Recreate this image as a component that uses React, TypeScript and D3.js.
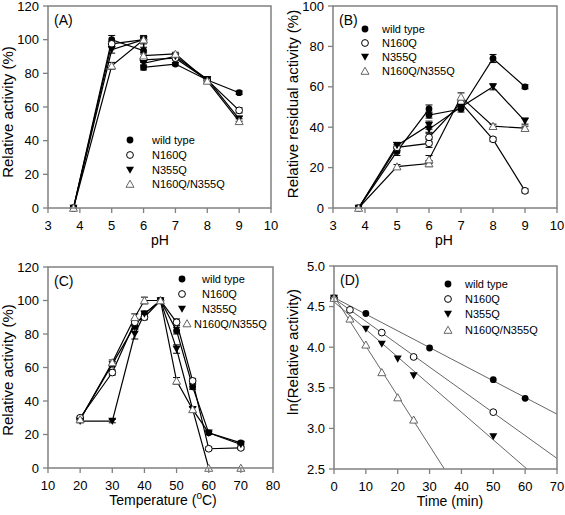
import React from 'react';
import * as d3 from 'd3';

const FONT = '"Liberation Sans", Arial, Helvetica, sans-serif';
const FRAME = '#808080';

const seriesNames = ['wild type', 'N160Q', 'N355Q', 'N160Q/N355Q'];
const markerTypes = ['fc', 'oc', 'ft', 'ot'];

// Panel A: pH profile (two buffers at pH 6)
const phA = [3.8, 5, 6, 6, 7, 8, 9];
const actA_wt = [0, 100, 93.5, 83.5, 85.5, 76, 68.5];
const actA_n160 = [0, 97.5, 100, 88, 89, 76, 58];
const actA_n355 = [0, 94, 100, 86, 90, 76.5, 53];
const actA_dbl = [0, 84.5, 100, 90.5, 91.5, 75.5, 51.5];
const errA_wt = [0, 2.5, 2, 1.5, 1, 1, 1];
const errA_n160 = [0, 1.5, 1.5, 1.5, 1, 1, 1.5];
const errA_n355 = [0, 2, 1.5, 1.5, 1, 1, 1.5];
const errA_dbl = [0, 2, 2.5, 2, 1, 1, 1.5];

// Panel B: pH stability
const phB = [3.8, 5, 6, 6, 7, 8, 9];
const actB_wt = [0, 28, 49, 46, 49, 74, 60];
const actB_n160 = [0, 30, 32, 35, 52, 34, 8.5];
const actB_n355 = [0, 31, 41, 39, 50, 60, 43];
const actB_dbl = [0, 20.5, 22, 24, 55, 40.5, 39.5];
const errB_wt = [0, 2, 2, 1.5, 1.5, 2, 1];
const errB_n160 = [0, 1.5, 2, 2, 1.5, 1, 1];
const errB_n355 = [0, 1.5, 2, 1.5, 1, 1.5, 1.5];
const errB_dbl = [0, 1, 1.5, 2, 2, 1, 1];

// Panel C: temperature profile
const tempC = [20, 30, 37, 40, 45, 50, 55, 60, 70];
const actC_wt = [29, 62, 85, 92, 100, 82, 48.5, 21, 15];
const actC_n160 = [30, 57, 87, 90, 100, 87, 52, 11.5, 12];
const actC_n355 = [28, 28, 80, 92, 100, 71, 35, 21, 14];
const actC_dbl = [29, 63, 90, 100, 100, 52, 35, 0, 0];
const errC_wt = [1, 1.5, 2, 1.5, 1, 2, 1.5, 1, 1];
const errC_n160 = [1, 1.5, 2, 1.5, 1, 2, 1.5, 1, 1];
const errC_n355 = [1, 1, 3, 1.5, 1, 2.5, 1.5, 1, 1];
const errC_dbl = [1, 1.5, 2, 2, 1, 2, 1.5, 0, 0];

// Panel D: thermal inactivation, ln(relative activity)
const timeD_wt = [0, 10, 30, 50, 60];
const lnD_wt = [4.605, 4.415, 3.99, 3.6, 3.37];
const timeD_n160 = [0, 5, 15, 25, 50];
const lnD_n160 = [4.605, 4.46, 4.18, 3.88, 3.2];
const timeD_n355 = [0, 10, 15, 20, 25, 50];
const lnD_n355 = [4.605, 4.225, 4.04, 3.856, 3.65, 2.9];
const timeD_dbl = [0, 5, 10, 15, 20, 25];
const lnD_dbl = [4.605, 4.35, 4.03, 3.69, 3.38, 3.106];

const ticksPH = [3, 4, 5, 6, 7, 8, 9, 10];
const ticksA_y = [0, 20, 40, 60, 80, 100, 120];
const ticksB_y = [0, 20, 40, 60, 80, 100];
const ticksC_x = [10, 20, 30, 40, 50, 60, 70, 80];
const ticksD_x = [0, 10, 20, 30, 40, 50, 60, 70];
const ticksD_y = [2.5, 3.0, 3.5, 4.0, 4.5, 5.0];

type Series = { x: number[]; y: number[]; err?: number[]; marker: string };

function Marker({ type, x, y }: { type: string; x: number; y: number }) {
  const r = 3.4;
  if (type === 'fc') return <circle cx={x} cy={y} r={r} fill="#000" />;
  if (type === 'oc') return <circle cx={x} cy={y} r={r} fill="#fff" stroke="#000" strokeWidth={1} />;
  if (type === 'ft')
    return <path d={`M${x - 4},${y - 3.3}L${x + 4},${y - 3.3}L${x},${y + 3.8}Z`} fill="#000" />;
  return (
    <path
      d={`M${x - 4},${y + 3.3}L${x + 4},${y + 3.3}L${x},${y - 3.8}Z`}
      fill="#fff"
      stroke="#666"
      strokeWidth={1}
    />
  );
}

function fit(xs: number[], ys: number[]) {
  const mx = d3.mean(xs) as number;
  const my = d3.mean(ys) as number;
  let sxy = 0,
    sxx = 0;
  xs.forEach((x, i) => {
    sxy += (x - mx) * (ys[i] - my);
    sxx += (x - mx) * (x - mx);
  });
  const b = sxy / sxx;
  return { a: my - b * mx, b };
}

type PanelProps = {
  id: string;
  box: { l: number; r: number; t: number; b: number };
  xDomain: [number, number];
  yDomain: [number, number];
  xTicks: number[];
  yTicks: number[];
  yFmt?: (v: number) => string;
  series: Series[];
  mode: 'connect' | 'fit';
  label: string;
  xTitle: React.ReactNode;
  xTitleX: number;
  yTitle: string;
  yTitleX: number;
  yTitleY: number;
  legend: { mx: number; tx: number; y: number }[];
};

function Panel(p: PanelProps) {
  const { box } = p;
  const x = d3.scaleLinear().domain(p.xDomain).range([box.l, box.r]);
  const y = d3.scaleLinear().domain(p.yDomain).range([box.b, box.t]);
  const fmt = p.yFmt || ((v: number) => String(v));
  const clipId = 'clip' + p.id;
  return (
    <g>
      <defs>
        <clipPath id={clipId}>
          <rect x={box.l} y={box.t} width={box.r - box.l} height={box.b - box.t} />
        </clipPath>
      </defs>
      {/* data lines */}
      <g clipPath={`url(#${clipId})`}>
        {p.series.map((s, i) => {
          if (p.mode === 'connect') {
            const line = d3
              .line<number>()
              .x((_, j) => x(s.x[j]))
              .y((v) => y(v));
            return <path key={i} d={line(s.y) || ''} fill="none" stroke="#000" strokeWidth={1.2} />;
          }
          const f = fit(s.x, s.y);
          const x0 = p.xDomain[0];
          const x1 = p.xDomain[1];
          return (
            <line
              key={i}
              x1={x(x0)}
              y1={y(f.a + f.b * x0)}
              x2={x(x1)}
              y2={y(f.a + f.b * x1)}
              stroke="#555"
              strokeWidth={0.9}
            />
          );
        })}
      </g>
      {/* error bars */}
      {p.series.map((s, i) =>
        (s.err || []).map((e, j) =>
          e > 0 ? (
            <g key={`e${i}-${j}`} stroke="#000" strokeWidth={1}>
              <line x1={x(s.x[j])} x2={x(s.x[j])} y1={y(s.y[j] - e)} y2={y(s.y[j] + e)} />
              <line x1={x(s.x[j]) - 3.5} x2={x(s.x[j]) + 3.5} y1={y(s.y[j] + e)} y2={y(s.y[j] + e)} />
              <line x1={x(s.x[j]) - 3.5} x2={x(s.x[j]) + 3.5} y1={y(s.y[j] - e)} y2={y(s.y[j] - e)} />
            </g>
          ) : null
        )
      )}
      {/* markers */}
      {p.series.map((s, i) =>
        s.y.map((v, j) => <Marker key={`m${i}-${j}`} type={s.marker} x={x(s.x[j])} y={y(v)} />)
      )}
      {/* frame */}
      <rect
        x={box.l}
        y={box.t}
        width={box.r - box.l}
        height={box.b - box.t}
        fill="none"
        stroke={FRAME}
        strokeWidth={1.5}
      />
      {/* x ticks */}
      {p.xTicks.map((t) => (
        <g key={'xt' + t}>
          <line x1={x(t)} x2={x(t)} y1={box.b} y2={box.b + 5} stroke={FRAME} strokeWidth={1.3} />
          <text x={x(t)} y={box.b + 22} textAnchor="middle" fontSize={13} fontFamily={FONT} fill="#000">
            {t}
          </text>
        </g>
      ))}
      {/* y ticks */}
      {p.yTicks.map((t) => (
        <g key={'yt' + t}>
          <line x1={box.l - 5} x2={box.l} y1={y(t)} y2={y(t)} stroke={FRAME} strokeWidth={1.3} />
          <text
            x={box.l - 9}
            y={y(t) + 4.6}
            textAnchor="end"
            fontSize={13}
            fontFamily={FONT}
            fill="#000"
          >
            {fmt(t)}
          </text>
        </g>
      ))}
      {/* titles */}
      <text
        x={p.xTitleX}
        y={box.b + 37}
        textAnchor="middle"
        fontSize={14}
        fontFamily={FONT}
        fill="#000"
      >
        {p.xTitle}
      </text>
      <text
        transform={`translate(${p.yTitleX},${p.yTitleY}) rotate(-90)`}
        textAnchor="middle"
        fontSize={15}
        fontFamily={FONT}
        fill="#000"
      >
        {p.yTitle}
      </text>
      <text x={box.l + 6} y={box.t + 19} fontSize={14} fontFamily={FONT} fill="#000">
        {p.label}
      </text>
      {/* legend */}
      {p.legend.map((lg, i) => (
        <g key={'lg' + i}>
          <Marker type={markerTypes[i]} x={lg.mx} y={lg.y} />
          <text x={lg.tx} y={lg.y + 4} fontSize={11} fontFamily={FONT} fill="#000">
            {seriesNames[i]}
          </text>
        </g>
      ))}
    </g>
  );
}

export default function App() {
  const seriesA: Series[] = [
    { x: phA, y: actA_wt, err: errA_wt, marker: markerTypes[0] },
    { x: phA, y: actA_n160, err: errA_n160, marker: markerTypes[1] },
    { x: phA, y: actA_n355, err: errA_n355, marker: markerTypes[2] },
    { x: phA, y: actA_dbl, err: errA_dbl, marker: markerTypes[3] },
  ];
  const seriesB: Series[] = [
    { x: phB, y: actB_wt, err: errB_wt, marker: markerTypes[0] },
    { x: phB, y: actB_n160, err: errB_n160, marker: markerTypes[1] },
    { x: phB, y: actB_n355, err: errB_n355, marker: markerTypes[2] },
    { x: phB, y: actB_dbl, err: errB_dbl, marker: markerTypes[3] },
  ];
  const seriesC: Series[] = [
    { x: tempC, y: actC_wt, err: errC_wt, marker: markerTypes[0] },
    { x: tempC, y: actC_n160, err: errC_n160, marker: markerTypes[1] },
    { x: tempC, y: actC_n355, err: errC_n355, marker: markerTypes[2] },
    { x: tempC, y: actC_dbl, err: errC_dbl, marker: markerTypes[3] },
  ];
  const seriesD: Series[] = [
    { x: timeD_wt, y: lnD_wt, marker: markerTypes[0] },
    { x: timeD_n160, y: lnD_n160, marker: markerTypes[1] },
    { x: timeD_n355, y: lnD_n355, marker: markerTypes[2] },
    { x: timeD_dbl, y: lnD_dbl, marker: markerTypes[3] },
  ];
  return (
    <svg
      width={565}
      height={515}
      style={{ position: 'absolute', left: 0, top: 0, background: '#fff' }}
    >
      <rect width={565} height={515} fill="#fff" />
      <Panel
        id="A"
        box={{ l: 48, r: 271, t: 6, b: 208 }}
        xDomain={[3, 10]}
        yDomain={[0, 120]}
        xTicks={ticksPH}
        yTicks={ticksA_y}
        series={seriesA}
        mode="connect"
        label="(A)"
        xTitle="pH"
        xTitleX={160}
        yTitle="Relative activity (%)"
        yTitleX={13}
        yTitleY={112}
        legend={[
          { mx: 130, tx: 152, y: 140 },
          { mx: 130, tx: 152, y: 155 },
          { mx: 130, tx: 152, y: 170 },
          { mx: 130, tx: 152, y: 184 },
        ]}
      />
      <Panel
        id="B"
        box={{ l: 333, r: 557, t: 6, b: 208 }}
        xDomain={[3, 10]}
        yDomain={[0, 100]}
        xTicks={ticksPH}
        yTicks={ticksB_y}
        series={seriesB}
        mode="connect"
        label="(B)"
        xTitle="pH"
        xTitleX={444}
        yTitle="Relative residual activity (%)"
        yTitleX={298}
        yTitleY={104}
        legend={[
          { mx: 365, tx: 382, y: 29 },
          { mx: 365, tx: 382, y: 43 },
          { mx: 365, tx: 382, y: 57 },
          { mx: 365, tx: 382, y: 71 },
        ]}
      />
      <Panel
        id="C"
        box={{ l: 48, r: 273, t: 267, b: 468 }}
        xDomain={[10, 80]}
        yDomain={[0, 120]}
        xTicks={ticksC_x}
        yTicks={ticksA_y}
        series={seriesC}
        mode="connect"
        label="(C)"
        xTitle={
          <>
            <tspan>Temperature (</tspan>
            <tspan fontSize={10} dy={-6}>
              o
            </tspan>
            <tspan dy={6}>C)</tspan>
          </>
        }
        xTitleX={163}
        yTitle="Relative activity (%)"
        yTitleX={13}
        yTitleY={370}
        legend={[
          { mx: 182, tx: 202, y: 279 },
          { mx: 182, tx: 202, y: 294 },
          { mx: 182, tx: 202, y: 309 },
          { mx: 187, tx: 194, y: 323.5 },
        ]}
      />
      <Panel
        id="D"
        box={{ l: 334, r: 557, t: 266, b: 469 }}
        xDomain={[0, 70]}
        yDomain={[2.5, 5.0]}
        xTicks={ticksD_x}
        yTicks={ticksD_y}
        yFmt={d3.format('.1f')}
        series={seriesD}
        mode="fit"
        label="(D)"
        xTitle="Time (min)"
        xTitleX={450}
        yTitle="ln(Relative activity)"
        yTitleX={298}
        yTitleY={352}
        legend={[
          { mx: 448, tx: 465, y: 284 },
          { mx: 448, tx: 465, y: 299 },
          { mx: 448, tx: 465, y: 314 },
          { mx: 448, tx: 465, y: 330 },
        ]}
      />
    </svg>
  );
}
